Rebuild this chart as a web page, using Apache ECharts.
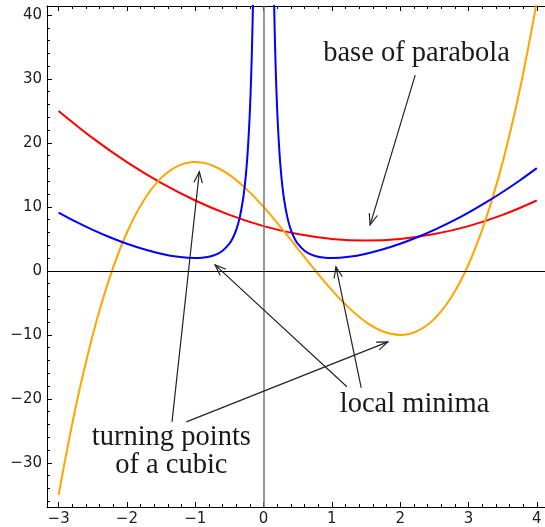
<!DOCTYPE html>
<html>
<head>
<meta charset="utf-8">
<script src="https://cdn.jsdelivr.net/npm/echarts@6/dist/echarts.min.js"></script>
<style>
html,body{margin:0;padding:0;background:#fff;}
#chart{width:545px;height:527px;}
</style>
</head>
<body>
<div id="chart"></div>
<script>
// ---- data ----
const xMajorTicks = [-3, -2, -1, 0, 1, 2, 3, 4];
const yMajorTicks = [-30, -20, -10, 0, 10, 20, 30, 40];

// red parabola
const redX = [-3, -2.5, -2, -1.5, -1, -0.5, 0, 0.5, 1, 1.5, 2, 2.5, 3, 3.5, 4];
const redY = [25, 20.75, 17, 13.75, 11, 8.75, 7, 5.75, 5, 4.75, 5, 5.75, 7, 8.75, 11];

// orange cubic
const orangeX = [-3, -2.75, -2.5, -2.25, -2, -1.75, -1.5, -1.25, -1, -0.75, -0.5, -0.25, 0, 0.25, 0.5, 0.75, 1, 1.25, 1.5, 1.75, 2, 2.25, 2.5, 2.75, 3, 3.25, 3.5, 3.75, 4];
const orangeY = [-35, -21.28, -10, -0.97, 6, 11.09, 14.5, 16.41, 17, 16.47, 15, 12.78, 10, 6.84, 3.5, 0.16, -3, -5.78, -8, -9.47, -10, -9.41, -7.5, -4.09, 1, 7.97, 17, 28.28, 42];

// blue curve, left branch
const blueLeftX = [-3, -2.75, -2.5, -2.25, -2, -1.75, -1.5, -1.25, -1, -0.9, -0.8, -0.7, -0.6, -0.5, -0.45, -0.4, -0.35, -0.3, -0.27, -0.25, -0.23, -0.21, -0.2, -0.19, -0.18, -0.17, -0.16, -0.15];
const blueLeftY = [9.11, 7.69, 6.41, 5.26, 4.25, 3.39, 2.69, 2.2, 2, 2.04, 2.2, 2.53, 3.14, 4.25, 5.14, 6.41, 8.29, 11.2, 13.79, 16.06, 18.96, 22.72, 25.04, 27.74, 30.9, 34.63, 39.09, 44.47];
// blue curve, right branch
const blueRightX = [0.15, 0.16, 0.17, 0.18, 0.19, 0.2, 0.21, 0.23, 0.25, 0.27, 0.3, 0.35, 0.4, 0.45, 0.5, 0.6, 0.7, 0.8, 0.9, 1, 1.25, 1.5, 1.75, 2, 2.25, 2.5, 2.75, 3, 3.25, 3.5, 3.75, 4];
const blueRightY = [44.47, 39.09, 34.63, 30.9, 27.74, 25.04, 22.72, 18.96, 16.06, 13.79, 11.2, 8.29, 6.41, 5.14, 4.25, 3.14, 2.53, 2.2, 2.04, 2, 2.2, 2.69, 3.39, 4.25, 5.26, 6.41, 7.69, 9.11, 10.66, 12.33, 14.13, 16.06];

// annotations
const arrowFrom = [[2.22, 30.6], [-1.34, -23.6], [-1.13, -23.6], [1.22, -18.1], [1.43, -18.3]];
const arrowTo   = [[1.56, 7.2], [-0.94, 15.5], [1.82, -11.1], [-0.71, 0.94], [1.06, 0.63]];
const noteTexts = ['base of parabola', 'local minima', 'turning points\nof a cubic'];
const notePos   = [[2.24, 33.9], [2.21, -20.9], [-1.35, -28.3]];

// ---- chart ----
const X_MIN = -3.17, X_MAX = 4.12, Y_MIN = -36.9, Y_MAX = 41.4;
function minorTicks(lo, hi, step) {
  const out = [];
  for (let v = Math.ceil(lo / step) * step; v <= hi + 1e-9; v += step) out.push(Math.round(v * 1000) / 1000);
  return out;
}
const xMinor = minorTicks(X_MIN, X_MAX, 0.2);
const yMinor = minorTicks(Y_MIN, Y_MAX, 2);
const zip = (a, b) => a.map((v, i) => [v, b[i]]);
const fmt = v => String(v).replace('-', '\u2212');
const labelStyle = {fontFamily: 'DejaVu Sans', fontSize: 15, color: '#222'};

function xAxisDef(pos, ticks, len, showLine, showLabel) {
  return {
    type: 'value', position: pos, min: X_MIN, max: X_MAX, gridIndex: 0,
    axisLine: {show: showLine, onZero: false, lineStyle: {color: '#000', width: 1}},
    axisTick: {show: true, inside: true, length: len, customValues: ticks, lineStyle: {color: '#000', width: 1}},
    axisLabel: Object.assign({show: showLabel, customValues: ticks, margin: 5, formatter: fmt}, labelStyle),
    splitLine: {show: false}
  };
}
function yAxisDef(pos, ticks, len, showLine, showLabel) {
  return {
    type: 'value', position: pos, min: Y_MIN, max: Y_MAX, gridIndex: 0,
    axisLine: {show: showLine, onZero: false, lineStyle: {color: '#000', width: 1}},
    axisTick: {show: true, inside: true, length: len, customValues: ticks, lineStyle: {color: '#000', width: 1}},
    axisLabel: Object.assign({show: showLabel, customValues: ticks, margin: 5, formatter: fmt}, labelStyle),
    splitLine: {show: false}
  };
}

const lineSeries = (x, y, color) => ({
  type: 'line', xAxisIndex: 0, yAxisIndex: 0, data: zip(x, y), showSymbol: false, symbol: 'none',
  smooth: 0.35, clip: true, lineStyle: {color: color, width: 2}, z: 3
});

const arrowData = arrowFrom.map((p, i) => [p[0], p[1], arrowTo[i][0], arrowTo[i][1]]);

const option = {
  animation: false,
  backgroundColor: '#fff',
  grid: {left: 47, right: 0, top: 6, bottom: 20, containLabel: false},
  xAxis: [
    xAxisDef('bottom', xMajorTicks, 5, true, true),
    xAxisDef('bottom', xMinor, 3, false, false),
    xAxisDef('top', xMajorTicks, 5, true, false),
    xAxisDef('top', xMinor, 3, false, false)
  ],
  yAxis: [
    yAxisDef('left', yMajorTicks, 5, true, true),
    yAxisDef('left', yMinor, 3, false, false)
  ],
  series: [
    {
      type: 'line', data: [], xAxisIndex: 0, yAxisIndex: 0, symbol: 'none',
      markLine: {
        silent: true, symbol: 'none', label: {show: false}, animation: false,
        data: [
          {xAxis: 0, lineStyle: {color: '#777', width: 1.5, type: 'solid'}},
          {yAxis: 0, lineStyle: {color: '#000', width: 1, type: 'solid'}}
        ]
      },
      z: 1
    },
    lineSeries(redX, redY, '#ff0000'),
    lineSeries(orangeX, orangeY, '#ffa500'),
    lineSeries(blueLeftX, blueLeftY, '#0000ff'),
    lineSeries(blueRightX, blueRightY, '#0000ff'),
    {
      type: 'custom', xAxisIndex: 0, yAxisIndex: 0, data: arrowData, clip: false, z: 5,
      encode: {x: [0, 2], y: [1, 3]},
      renderItem: function (params, api) {
        const p1 = api.coord([api.value(0), api.value(1)]);
        const p2 = api.coord([api.value(2), api.value(3)]);
        const dx = p2[0] - p1[0], dy = p2[1] - p1[1];
        const L = Math.hypot(dx, dy), ux = dx / L, uy = dy / L;
        const hl = 11, hw = 4.2;
        const a = [p2[0] - ux * hl - uy * hw, p2[1] - uy * hl + ux * hw];
        const b = [p2[0] - ux * hl + uy * hw, p2[1] - uy * hl - ux * hw];
        return {
          type: 'group', children: [
            {type: 'line', shape: {x1: p1[0], y1: p1[1], x2: p2[0], y2: p2[1]}, style: {stroke: '#222', lineWidth: 1.2}},
            {type: 'polyline', shape: {points: [a, p2, b]}, style: {stroke: '#222', fill: null, lineWidth: 1.2}}
          ]
        };
      }
    },
    {
      type: 'custom', xAxisIndex: 0, yAxisIndex: 0, data: notePos, clip: false, z: 6,
      renderItem: function (params, api) {
        const p = api.coord([api.value(0), api.value(1)]);
        return {
          type: 'text', x: p[0], y: p[1],
          style: {
            text: noteTexts[params.dataIndex], fill: '#1a1a1a',
            font: '28.5px "Liberation Serif"', align: 'center', verticalAlign: 'middle', lineHeight: 28
          }
        };
      }
    }
  ]
};

const chart = echarts.init(document.getElementById('chart'), null, {renderer: 'canvas'});
chart.setOption(option);
</script>
</body>
</html>
